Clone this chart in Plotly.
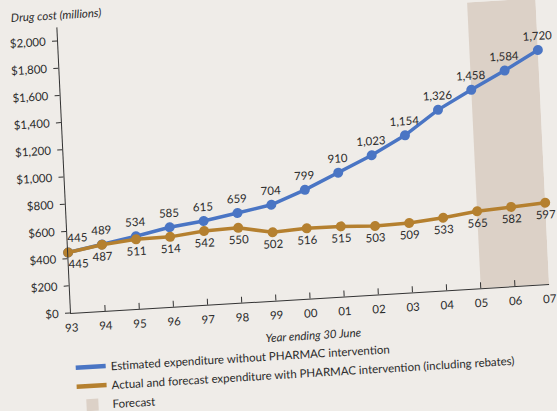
import plotly.graph_objects as go

years = ["93", "94", "95", "96", "97", "98", "99", "00", "01", "02", "03", "04", "05", "06", "07"]
without_pharmac = [445, 489, 534, 585, 615, 659, 704, 799, 910, 1023, 1154, 1326, 1458, 1584, 1720]
with_pharmac = [445, 487, 511, 514, 542, 550, 502, 516, 515, 503, 509, 533, 565, 582, 597]
forecast_start, forecast_end = "05", "07"
y_ticks = [0, 200, 400, 600, 800, 1000, 1200, 1400, 1600, 1800, 2000]
name_without = "Estimated expenditure without PHARMAC intervention"
name_with = "Actual and forecast expenditure with PHARMAC intervention (including rebates)"

BLUE = "#4a75c4"
ORANGE = "#b5802f"
BAND = "#dcd1c7"
BG = "#efece8"
TXT = "#2b2b2b"
FONT = "Lato, 'Open Sans', sans-serif"
FS = 11.5


def labels(values):
    out = [f"{v:,}" for v in values]
    # the first label sits just right of the y axis: pad it with figure spaces
    out[0] = "\u2007" * 3 + out[0]
    return out


xi = list(range(len(years)))

fig = go.Figure()
fig.add_trace(go.Scatter(
    x=xi, y=without_pharmac, mode="lines+markers+text", showlegend=False,
    name=name_without,
    line=dict(color=BLUE, width=3.5), marker=dict(color=BLUE, size=10),
    text=labels(without_pharmac), textposition="top center",
    textfont=dict(size=FS, color=TXT, family=FONT), cliponaxis=False,
))
fig.add_trace(go.Scatter(
    x=xi, y=with_pharmac, mode="lines+markers+text", showlegend=False,
    name=name_with,
    line=dict(color=ORANGE, width=3.5), marker=dict(color=ORANGE, size=10),
    text=labels(with_pharmac), textposition="bottom center",
    textfont=dict(size=FS, color=TXT, family=FONT), cliponaxis=False,
))
# legend-only entries (lines without markers, as in the original key)
fig.add_trace(go.Scatter(x=[None], y=[None], mode="lines", name=name_without,
                         line=dict(color=BLUE, width=4.5)))
fig.add_trace(go.Scatter(x=[None], y=[None], mode="lines", name=name_with,
                         line=dict(color=ORANGE, width=4.5)))

fig.add_shape(type="rect", xref="x", yref="y",
              x0=years.index(forecast_start), x1=years.index(forecast_end),
              y0=0, y1=2100, fillcolor=BAND, line=dict(width=0),
              layer="below", showlegend=True, name="Forecast")

fig.add_annotation(text="Drug cost (millions)", xref="paper", yref="paper",
                   x=-0.10, y=1.045, xanchor="left", yanchor="middle", showarrow=False,
                   font=dict(size=FS, color=TXT, family=FONT, style="italic"))
fig.add_annotation(text="Year ending 30 June", xref="paper", yref="paper",
                   x=0.503, y=0, xanchor="center", yanchor="middle", yshift=-36, showarrow=False,
                   font=dict(size=FS, color=TXT, family=FONT, style="italic"))

fig.update_layout(
    width=580, height=430,
    margin=dict(l=71, r=30, t=27, b=117, autoexpand=False),
    paper_bgcolor=BG, plot_bgcolor=BG,
    font=dict(family=FONT, size=FS, color=TXT),
    showlegend=True,
    legend=dict(x=-0.006, y=-0.1415, xanchor="left", yanchor="top",
                bgcolor="rgba(0,0,0,0)", font=dict(size=FS, color=TXT, family=FONT),
                tracegroupgap=0),
    xaxis=dict(type="linear", range=[0, 14], tickvals=xi, ticktext=years,
               showgrid=False, zeroline=False, showline=True, linecolor="#333", linewidth=1,
               ticks="inside", ticklen=6, tickcolor="#333", ticklabelstandoff=4,
               tickfont=dict(size=FS, color=TXT, family=FONT)),
    yaxis=dict(range=[0, 2100], tickvals=y_ticks,
               ticktext=[f"${v:,}" for v in y_ticks],
               showgrid=False, zeroline=False, showline=True, linecolor="#333", linewidth=1,
               ticks="outside", ticklen=5, tickcolor="#333", ticklabelstandoff=4,
               tickfont=dict(size=FS, color=TXT, family=FONT)),
)

post = (
    "document.documentElement.style.overflow='hidden';"
    "document.body.style.margin='0';"
    "document.body.style.overflow='hidden';"
    "document.body.style.background='" + BG + "';"
    "var d=document.getElementById('{plot_id}');"
    "d.style.transformOrigin='71px 313px';"
    "d.style.transform='matrix(0.998,-0.0605,0.0477,0.9989,0,0)';"
)
fig.write_html("out.html", post_script=post)
